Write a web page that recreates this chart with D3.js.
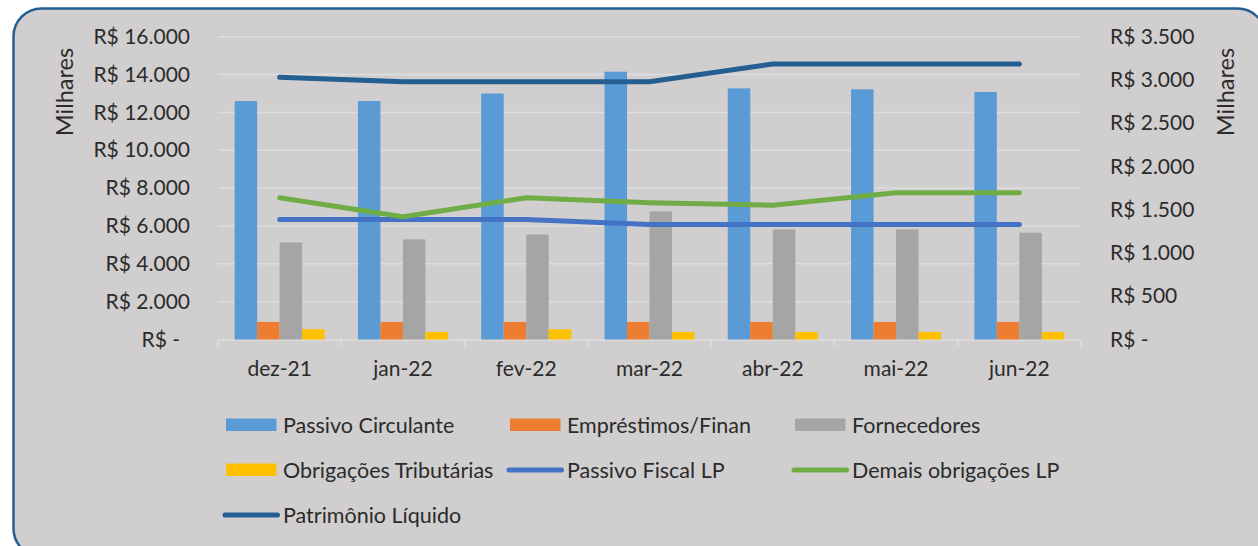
<!DOCTYPE html>
<html>
<head>
<meta charset="utf-8">
<script src="https://cdn.jsdelivr.net/npm/d3@7"></script>
<style>
  html, body { margin: 0; padding: 0; background: #ffffff; }
  svg { display: block; }
  text { font-family: Lato, "Open Sans", sans-serif; fill: #2b2b2b; }
</style>
</head>
<body>
<svg id="chart" width="1258" height="546"></svg>
<script>
// ---- data ----
const categories = ["dez-21", "jan-22", "fev-22", "mar-22", "abr-22", "mai-22", "jun-22"];
const passivoCirculante = [12600, 12600, 13000, 14150, 13270, 13220, 13080];
const emprestimos = [930, 930, 930, 930, 930, 930, 930];
const fornecedores = [5130, 5290, 5550, 6770, 5820, 5820, 5640];
const obrigacoesTributarias = [545, 402, 545, 402, 402, 402, 402];
const passivoFiscalLP = [1388, 1388, 1388, 1330, 1330, 1330, 1330];
const demaisObrigacoesLP = [1638, 1418, 1638, 1580, 1553, 1696, 1696];
const patrimonioLiquido = [3030, 2980, 2980, 2980, 3184, 3184, 3184];
const leftTicks = [0, 2000, 4000, 6000, 8000, 10000, 12000, 14000, 16000];
const rightTicks = [0, 500, 1000, 1500, 2000, 2500, 3000, 3500];

const barSeries = [
  { name: "Passivo Circulante", values: passivoCirculante, color: "#5b9bd5" },
  { name: "Empréstimos/Finan", values: emprestimos, color: "#ed7d31" },
  { name: "Fornecedores", values: fornecedores, color: "#a5a5a5" },
  { name: "Obrigações Tributárias", values: obrigacoesTributarias, color: "#ffc000" }
];
const lineSeries = [
  { name: "Passivo Fiscal LP", values: passivoFiscalLP, color: "#4472c4" },
  { name: "Demais obrigações LP", values: demaisObrigacoesLP, color: "#70ad47" },
  { name: "Patrimônio Líquido", values: patrimonioLiquido, color: "#255e91" }
];

const svg = d3.select("#chart");

// frame
svg.append("rect")
  .attr("x", 13.5).attr("y", 8.5).attr("width", 1252).attr("height", 548)
  .attr("rx", 28).attr("ry", 28)
  .attr("fill", "#d0cece").attr("stroke", "#255e91").attr("stroke-width", 2.5);

const plotLeft = 218, plotRight = 1081, y0 = 339.5, yTop = 36.7;

const x0 = d3.scaleBand().domain(categories).range([plotLeft, plotRight]).padding(0);
const bw = x0.bandwidth();
const groupW = 90;
const x1 = d3.scaleBand().domain(barSeries.map(s => s.name))
  .range([(bw - groupW) / 2, (bw + groupW) / 2]).padding(0);

const yL = d3.scaleLinear().domain([0, 16000]).range([y0, yTop]);
const yR = d3.scaleLinear().domain([0, 3500]).range([y0, yTop]);

const fmt = v => v === 0 ? "R$ -" : "R$ " + d3.format(",")(v).replace(/,/g, ".");

// gridlines
svg.append("g").selectAll("line").data(leftTicks.filter(d => d > 0)).join("line")
  .attr("x1", plotLeft).attr("x2", plotRight)
  .attr("y1", d => yL(d)).attr("y2", d => yL(d))
  .attr("stroke", "#dedede").attr("stroke-width", 1.5);

// left axis
const gL = svg.append("g").attr("transform", `translate(${plotLeft},0)`)
  .call(d3.axisLeft(yL).tickValues(leftTicks).tickFormat(fmt).tickSize(0).tickPadding(28));
gL.select(".domain").remove();
gL.selectAll("text").style("font-size", "21px").attr("fill", "#2b2b2b")
  .attr("dx", d => d === 0 ? -10 : 0);

// right axis
const gR = svg.append("g").attr("transform", `translate(${plotRight},0)`)
  .call(d3.axisRight(yR).tickValues(rightTicks).tickFormat(fmt).tickSize(0).tickPadding(29));
gR.select(".domain").remove();
gR.selectAll("text").style("font-size", "21px").attr("fill", "#2b2b2b");

// x axis
const gX = svg.append("g").attr("transform", `translate(0,${y0})`)
  .call(d3.axisBottom(x0).tickSize(0).tickPadding(22));
gX.select(".domain").attr("stroke", "#dedede").attr("stroke-width", 1.5);
gX.selectAll("text").style("font-size", "21px").attr("fill", "#2b2b2b");
// tick marks at band boundaries
const bounds = categories.map(c => x0(c)).concat([plotRight]);
svg.append("g").selectAll("line").data(bounds).join("line")
  .attr("x1", d => d).attr("x2", d => d).attr("y1", y0).attr("y2", y0 + 7)
  .attr("stroke", "#dedede").attr("stroke-width", 1.5);

// axis titles
svg.append("text").attr("transform", "translate(73,92) rotate(-90)")
  .attr("text-anchor", "middle").style("font-size", "23.5px").text("Milhares");
svg.append("text").attr("transform", "translate(1234,92) rotate(-90)")
  .attr("text-anchor", "middle").style("font-size", "23.5px").text("Milhares");

// bars
barSeries.forEach(s => {
  svg.append("g").selectAll("rect").data(s.values).join("rect")
    .attr("x", (d, i) => x0(categories[i]) + x1(s.name))
    .attr("width", x1.bandwidth())
    .attr("y", d => yL(d))
    .attr("height", d => y0 - yL(d))
    .attr("fill", s.color);
});

// lines
const line = d3.line()
  .x((d, i) => x0(categories[i]) + bw / 2)
  .y(d => yR(d));
lineSeries.forEach(s => {
  svg.append("path").datum(s.values)
    .attr("d", line)
    .attr("fill", "none").attr("stroke", s.color).attr("stroke-width", 5)
    .attr("stroke-linecap", "round").attr("stroke-linejoin", "round");
});

// legend
const legendItems = [
  { s: barSeries[0], type: "bar", x: 226, y: 425 },
  { s: barSeries[1], type: "bar", x: 510, y: 425 },
  { s: barSeries[2], type: "bar", x: 795, y: 425 },
  { s: barSeries[3], type: "bar", x: 226, y: 470 },
  { s: lineSeries[0], type: "line", x: 510, y: 470 },
  { s: lineSeries[1], type: "line", x: 795, y: 470 },
  { s: lineSeries[2], type: "line", x: 226, y: 515 }
];
const lg = svg.append("g");
legendItems.forEach(it => {
  const g = lg.append("g");
  if (it.type === "bar") {
    g.append("rect").attr("x", it.x).attr("y", it.y - 6.5).attr("width", 50.5).attr("height", 12.5)
      .attr("fill", it.s.color);
  } else {
    g.append("line").attr("x1", it.x - 1).attr("x2", it.x + 51.5).attr("y1", it.y).attr("y2", it.y)
      .attr("stroke", it.s.color).attr("stroke-width", 5).attr("stroke-linecap", "round");
  }
  g.append("text").attr("x", it.x + 57).attr("y", it.y).attr("dy", "0.35em")
    .style("font-size", "21.5px").text(it.s.name);
});
</script>
</body>
</html>
